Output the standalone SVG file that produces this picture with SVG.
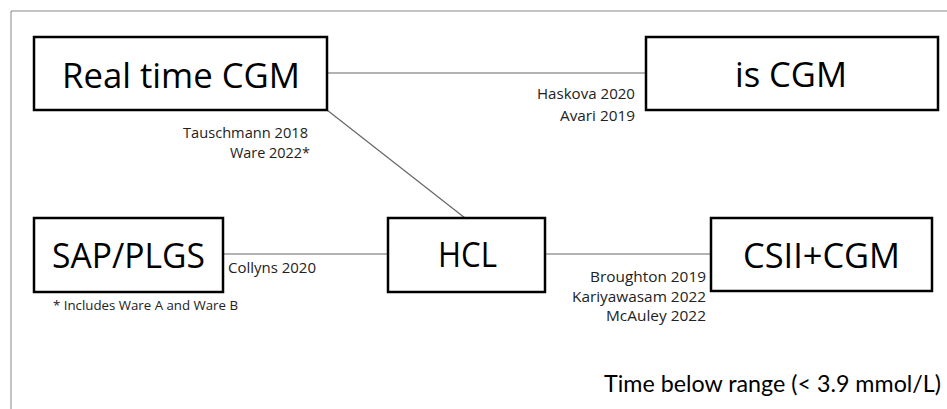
<svg xmlns="http://www.w3.org/2000/svg" width="947" height="409" viewBox="0 0 947 409">
<style>
.box{fill:#fff;stroke:#000;stroke-width:2.5}
.big{font-family:"Open Sans",Lato,sans-serif;font-size:35px;fill:#000;text-anchor:middle}
.lbl{font-family:"Open Sans",Lato,sans-serif;font-size:15px;fill:#222}
.r{text-anchor:end}
.title{font-family:Lato,"Open Sans",sans-serif;font-size:23px;fill:#000;text-anchor:end}
.conn line{stroke:#666;stroke-width:1.2}
.frame{stroke:#888;stroke-width:1;fill:none}
</style>
<rect width="947" height="409" fill="#fff"/>
<path class="frame" d="M11 409 V11 H947"/>
<g class="conn" id="connectors">
<line x1="327" y1="73" x2="646" y2="73"/>
<line x1="327" y1="110" x2="465" y2="218"/>
<line x1="223" y1="254" x2="388" y2="254"/>
<line x1="545" y1="254" x2="711" y2="254"/>
</g>
<g id="node-rtcgm"><rect class="box" x="34" y="37" width="293" height="73"/><text class="big" x="181" y="88" textLength="238" lengthAdjust="spacingAndGlyphs">Real time CGM</text></g>
<g id="node-iscgm"><rect class="box" x="646" y="37" width="292" height="73"/><text class="big" x="791" y="87" textLength="112" lengthAdjust="spacingAndGlyphs">is CGM</text></g>
<g id="node-sap"><rect class="box" x="34" y="218" width="189" height="74"/><text class="big" x="128.5" y="268" textLength="153" lengthAdjust="spacingAndGlyphs">SAP/PLGS</text></g>
<g id="node-hcl"><rect class="box" x="388" y="218" width="157" height="74"/><text class="big" x="467.5" y="267" textLength="59" lengthAdjust="spacingAndGlyphs">HCL</text></g>
<g id="node-csii"><rect class="box" x="711" y="218" width="221" height="73"/><text class="big" x="821.5" y="268" textLength="157" lengthAdjust="spacingAndGlyphs">CSII+CGM</text></g>
<g id="labels">
<text class="lbl r" x="635" y="99" textLength="98" lengthAdjust="spacingAndGlyphs">Haskova 2020</text>
<text class="lbl r" x="635" y="121" textLength="75" lengthAdjust="spacingAndGlyphs">Avari 2019</text>
<text class="lbl r" x="308" y="138" textLength="125" lengthAdjust="spacingAndGlyphs">Tauschmann 2018</text>
<text class="lbl r" x="310" y="158" textLength="80" lengthAdjust="spacingAndGlyphs">Ware 2022*</text>
<text class="lbl" x="228" y="273" textLength="88" lengthAdjust="spacingAndGlyphs">Collyns 2020</text>
<text class="lbl r" x="706" y="282" textLength="116" lengthAdjust="spacingAndGlyphs">Broughton 2019</text>
<text class="lbl r" x="706" y="301.5" textLength="134" lengthAdjust="spacingAndGlyphs">Kariyawasam 2022</text>
<text class="lbl r" x="706" y="321" textLength="100" lengthAdjust="spacingAndGlyphs">McAuley 2022</text>
<text class="lbl" x="53" y="310" style="font-size:12.5px" textLength="185" lengthAdjust="spacingAndGlyphs">* Includes Ware A and Ware B</text>
<text class="title" x="941" y="392" textLength="337" lengthAdjust="spacingAndGlyphs">Time below range (&lt; 3.9 mmol/L)</text>
</g>
</svg>
